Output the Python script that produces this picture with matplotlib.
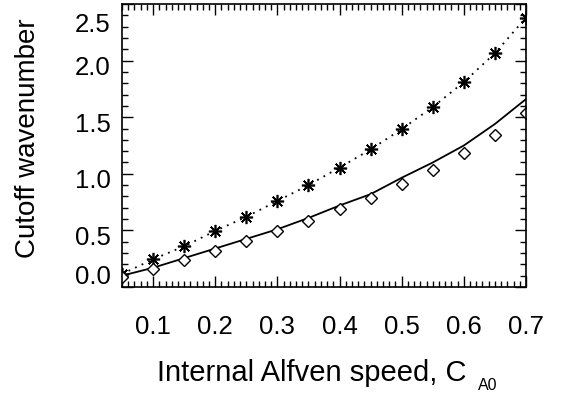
import numpy as np
import matplotlib.pyplot as plt
import matplotlib.transforms as mtransforms

plt.rcParams['font.family'] = ['Liberation Sans', 'DejaVu Sans']

# internal Alfven speed
c_a0 = [0.05, 0.10, 0.15, 0.20, 0.25, 0.30, 0.35,
        0.40, 0.45, 0.50, 0.55, 0.60, 0.65, 0.70]
# asterisks + dotted curve
k_star = [0.115, 0.245, 0.36, 0.495, 0.62, 0.76, 0.90,
          1.055, 1.215, 1.395, 1.59, 1.81, 2.065, 2.38]
# diamonds
k_diam = [0.085, 0.155, 0.235, 0.315, 0.405, 0.495, 0.585,
          0.685, 0.79, 0.91, 1.035, 1.18, 1.345, 1.54]
# solid curve
k_line = [0.10, 0.17, 0.255, 0.34, 0.425, 0.51, 0.61,
          0.72, 0.82, 0.965, 1.10, 1.25, 1.44, 1.66]

xticks = [0.1, 0.2, 0.3, 0.4, 0.5, 0.6, 0.7]
yticks = [0.0, 0.5, 1.0, 1.5, 2.0, 2.5]

fig = plt.figure(figsize=(5.73, 3.94), dpi=100)
ax = fig.add_axes([122 / 573, 1 - 287 / 394, 404 / 573, 283 / 394])

ax.plot(c_a0, k_star, color='black', linestyle=(0, (1, 3)), linewidth=1.3)
ax.plot(c_a0, k_star, linestyle='none', marker=(8, 2, 0), markersize=9.5,
        markeredgecolor='black', markeredgewidth=1.2)
ax.plot(c_a0, k_line, color='black', linewidth=1.3)
ax.plot(c_a0, k_diam, linestyle='none', marker='D', markersize=6,
        markerfacecolor='white', markeredgecolor='black', markeredgewidth=1.0)

ax.set_xlim(0.05, 0.7)
ax.set_ylim(0.0, 2.5)
ax.set_xticks(xticks)
ax.set_xticklabels(['%.1f' % v for v in xticks])
ax.set_yticks(yticks)
ax.set_yticklabels(['%.1f' % v for v in yticks])
ax.set_xticks(np.arange(0.05, 0.7001, 0.01), minor=True)
ax.set_yticks(np.arange(0.0, 2.5001, 0.1), minor=True)

ax.tick_params(which='both', direction='in', top=True, right=True, width=1.0)
ax.tick_params(which='major', length=8, labelsize=18.5)
ax.tick_params(which='minor', length=4)
ax.tick_params(axis='x', which='major', pad=20)
ax.tick_params(axis='y', which='major', pad=8)
for s in ax.spines.values():
    s.set_linewidth(1.2)

# IDL-style label shifts on the y axis
shifts = [12, -5, -5, -5, -5, -18]
for lab, dy in zip(ax.get_yticklabels(), shifts):
    lab.set_transform(lab.get_transform() +
                      mtransforms.ScaledTranslation(0, dy / 100, fig.dpi_scale_trans))

fig.text(28 / 573, 1 - 138 / 394, 'Cutoff wavenumber', rotation=90,
         ha='center', va='center', fontsize=20)
fig.text(157 / 573, 1 - 373 / 394, 'Internal Alfven speed, C',
         ha='left', va='center', fontsize=21)
fig.text(478 / 573, 1 - 386 / 394, 'A0', ha='left', va='center', fontsize=11.5)

plt.savefig('out.png', dpi=100)
